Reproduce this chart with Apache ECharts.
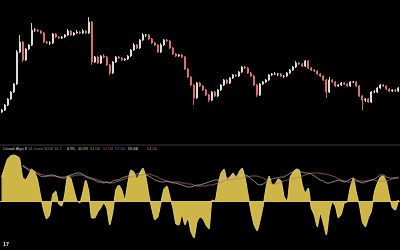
<!DOCTYPE html>
<html><head><meta charset="utf-8">
<script src="https://cdn.jsdelivr.net/npm/echarts@6/dist/echarts.min.js"></script>
<style>html,body{margin:0;padding:0;background:#000}#c{width:400px;height:250px}</style>
</head><body><div id="c"></div>
<script>
// ---- price candles ----
const opens=[88,90,95,101,108,116,148,158,140,151,155,170,170,169,167,158,157,157,166,163,162,163,165,169,165,167,168,167,169,167,178,138,143,
137,144,143,135,127,138,143,142,140,141,144,150,155,152,160,165,165,161,157,155,148,155,160,159,152,146,144,145,143,131,123,115,102,
117,114,110,105,100,108,104,110,115,120,117,122,125,124,128,133,132,127,124,115,105,116,118,120,125,126,126,126,124,124,127,130,133,137,
136,134,139,132,130,129,126,124,120,108,120,118,114,115,117,116,114,118,118,114,104,100,101,98,108,108,112,115,114,111,109,110,109];
const closes=[90,95,101,108,116,148,158,140,151,155,170,170,169,167,158,157,157,166,163,162,163,165,169,165,167,168,167,169,167,178,138,143,137,
144,143,135,127,138,143,142,140,141,144,150,155,152,160,165,165,161,157,155,148,155,160,159,152,146,144,145,143,131,123,115,102,117,
114,110,105,100,108,104,110,115,120,117,122,125,124,128,133,132,127,124,115,105,116,118,120,125,126,126,126,124,124,127,130,133,137,136,
134,139,132,130,129,126,124,120,108,120,118,114,115,117,116,114,118,118,114,104,100,101,98,108,108,112,115,114,111,109,110,109,112];
const highs=[91,96,102,109,117,150,165,159,152,156,177,172,171,170,168,159,159,167,167,164,164,166,171,170,168,170,169,171,170,183,179,144,144,
145,146,144,136,139,144,144,143,142,145,151,157,156,161,167,166,166,162,158,156,157,161,161,160,153,147,146,146,144,132,124,116,118,
118,115,111,106,109,109,111,116,121,121,123,126,126,129,134,134,133,128,125,116,117,119,121,126,127,128,127,127,125,128,131,134,139,138,
137,140,140,133,131,130,127,125,121,123,121,119,116,118,118,117,119,119,119,115,105,102,102,109,110,113,116,116,115,112,111,111,113];
const lows=[87,89,94,100,107,115,147,138,139,150,154,168,168,166,157,156,155,156,162,161,161,162,164,164,164,166,166,166,166,166,135,137,136,
136,142,134,125,126,137,141,139,139,140,143,149,151,151,159,163,160,156,154,147,147,154,158,151,145,143,143,142,130,122,114,95,101,
113,109,104,98,99,103,103,109,114,116,116,121,123,123,127,131,126,123,114,103,104,115,117,119,124,125,124,123,122,123,126,129,132,135,
133,133,131,129,128,125,123,119,102,107,117,113,113,114,115,113,113,117,113,103,90,98,97,97,107,107,111,113,110,108,108,108,108];

// ---- lower oscillator ----
const osc=[24,33,42,45,46,45,43,24,21,26,32,29,21,5,-9,-18,-14,6,10,-3,-5,6,25,23,12,1,-2,8,21,10,-17,-17,-11,
-7,-2,-7,-24,-11,11,16,11,1,18,31,29,22,28,33,24,6,-8,-19,-16,-2,12,15,4,-7,-23,-24,-13,-24,-17,-31,-37,-21,
-16,-18,-24,-28,1,0,16,28,32,21,24,28,23,29,33,23,6,-11,-24,-30,-19,-5,14,25,16,17,22,20,4,0,24,29,32,31,
16,8,13,-7,-14,-26,-12,-22,-34,-12,-1,-5,-17,-13,-2,-1,14,23,8,-4,-21,-26,-17,-10,9,18,24,25,19,4,-7,-9,1];
const fastLine=[null,null,null,null,null,null,null,
35,33,31,30,29,27,25,24,25,26,26,25,24,23,23,25,26,27,28,28,27,24,23,22,21,19,19,18,19,18,20,21,21,23,24,25,26,26,27,28,28,26,25,23,21,20,19,19,20,19,18,18,17,16,15,14,14,15,16,
16,17,18,19,20,21,21,22,23,23,24,24,25,26,26,26,25,22,20,17,16,17,19,20,22,23,23,24,24,26,28,29,29,29,
29,28,28,27,25,23,21,20,18,18,19,20,21,20,19,20,22,23,21,19,18,19,20,21,22,24,26,26,24,23,23,23,23];
const slowLine=[null,null,null,null,null,null,null,
36,34,32,31,30,28,27,26,25,25,25,25,24,24,24,24,25,25,26,26,26,25,24,23,22,21,20,19,19,18,18,19,20,21,22,23,24,25,25,26,
26,27,27,26,25,24,22,21,20,19,19,19,19,18,18,17,17,16,15,15,15,15,16,16,17,18,19,20,21,21,22,22,23,23,24,24,25,25,25,24,
23,21,19,17,17,18,19,20,21,22,22,23,24,25,26,27,28,28,28,28,27,27,26,25,24,22,21,20,19,19,19,20,20,20,20,20,21,21,20,20,
20,20,21,22,23,24];

// ---- header labels ----
const labelTexts=['Crowd Algo 8','14 close 5000 14 2','0.95','40.83','51.00','57.00','57.00','55.66','54.66'];
const labelColors=['#d0d0d0','#8a8a8a','#e0e0e0','#d8c050','#9a9a9a','#e05a50','#4f7de0','#e0e0e0','#e05a50'];

const cats=closes.map((_,i)=>String(i));
const candles=closes.map((c,i)=>[opens[i],c,lows[i],highs[i]]);

const labelX=[3,28,67,78,90,103,115,128,147];
const graphic=[
  {type:'line',shape:{x1:0,y1:145,x2:400,y2:145},style:{stroke:'#3a3a3a',lineWidth:1},silent:true},
  ...labelTexts.map((t,i)=>({type:'text',x:labelX[i],y:147,style:{text:t,fill:labelColors[i],font:'4px "Liberation Sans"'},silent:true})),
  {type:'text',x:3,y:241,style:{text:'17',fill:'#e8e8e8',font:'bold 5.5px "Liberation Sans"'},silent:true}
];

const chart=echarts.init(document.getElementById('c'),null,{renderer:'canvas'});
chart.setOption({
  backgroundColor:'#000',
  animation:false,
  graphic:graphic,
  grid:[
    {left:0,right:0,top:10,height:110},
    {left:0,right:0,top:150,height:90}
  ],
  xAxis:[
    {type:'category',data:cats,gridIndex:0,show:false,boundaryGap:true},
    {type:'category',data:cats,gridIndex:1,show:false,boundaryGap:true}
  ],
  yAxis:[
    {type:'value',gridIndex:0,min:80,max:190,show:false,splitLine:{show:false}},
    {type:'value',gridIndex:1,min:-39,max:51,show:false,splitLine:{show:false}}
  ],
  series:[
    {type:'candlestick',xAxisIndex:0,yAxisIndex:0,data:candles,barMaxWidth:1.8,
      itemStyle:{color:'#e6e6e6',color0:'#e5766c',borderColor:'#e6e6e6',borderColor0:'#e5766c',borderWidth:0.9}},
    {type:'line',xAxisIndex:1,yAxisIndex:1,data:osc,symbol:'none',smooth:0.15,
      lineStyle:{color:'#ecd66a',width:1},
      areaStyle:{color:'#cdb548',opacity:1},
      markLine:{silent:true,symbol:['none','none'],label:{show:false},
        lineStyle:{color:'#dcc452',width:1.2,type:'solid'},data:[{yAxis:0}]}},
    {type:'line',xAxisIndex:1,yAxisIndex:1,data:slowLine,symbol:'none',
      lineStyle:{color:'#c87060',width:0.7}},
    {type:'line',xAxisIndex:1,yAxisIndex:1,data:fastLine,symbol:'none',
      lineStyle:{color:'#bdbdbd',width:0.7}}
  ]
});
</script></body></html>
